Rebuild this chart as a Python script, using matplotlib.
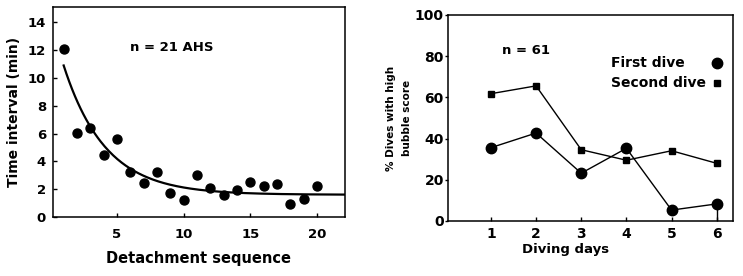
import numpy as np
import matplotlib.pyplot as plt

plt.rcParams['font.family'] = ['DejaVu Sans']
plt.rcParams['font.weight'] = 'bold'

# left panel: time interval between detachments
seq = np.arange(1, 21)
interval = [12.05, 6.05, 6.4, 4.45, 5.6, 3.25, 2.45, 3.2, 1.75, 1.2,
            3.0, 2.05, 1.6, 1.95, 2.5, 2.25, 2.35, 0.95, 1.3, 2.2]
# exponential fit y = c + a*exp(-k*x)
fit_c, fit_a, fit_k = 1.6, 12.8, 0.32

# right panel: dives with high bubble score
days = [1, 2, 3, 4, 5, 6]
first_dive = [35.6, 42.7, 23.2, 35.3, 5.3, 8.3]
second_dive = [61.8, 65.6, 34.6, 29.5, 34.1, 28.0]

fig = plt.figure(figsize=(7.43, 2.76), dpi=100)
W, H = 743, 276

def box(l, t, r, b):
    return [l / W, 1 - b / H, (r - l) / W, (b - t) / H]

# ---- left
ax1 = fig.add_axes(box(53, 7, 345, 217))
ax1.scatter(seq, interval, s=42, color='black', zorder=3)
xf = np.linspace(1, 22.1, 200)
ax1.plot(xf, fit_c + fit_a * np.exp(-fit_k * xf), color='black', lw=1.6)
ax1.set_xlim(0.2, 22.1)
ax1.set_ylim(0, 15.1)
ax1.set_xticks([5, 10, 15, 20])
ax1.set_yticks(range(0, 15, 2))
ax1.tick_params(direction='in', length=3, width=1, labelsize=9.5)
ax1.tick_params(axis='x', pad=8)
ax1.tick_params(axis='y', pad=5)
for lab in ax1.get_xticklabels() + ax1.get_yticklabels():
    lab.set_fontweight('bold')
ax1.set_xlabel('Detachment sequence', fontsize=10.5, fontweight='bold', labelpad=7)
ax1.set_ylabel('Time interval (min)', fontsize=10, fontweight='bold', labelpad=5)
ax1.text(0.264, 0.805, 'n = 21 AHS', transform=ax1.transAxes, fontsize=9.5,
         fontweight='bold', va='center')
for sp in ax1.spines.values():
    sp.set_linewidth(1.1)

# ---- right
ax2 = fig.add_axes(box(448, 15, 733, 221))
ax2.plot(days, first_dive, color='black', lw=1, marker='o', ms=7.5)
ax2.plot(days, second_dive, color='black', lw=1, marker='s', ms=5)
ax2.vlines(days[-1], 0, first_dive[-1], color='black', lw=1)
ax2.set_xlim(0.05, 6.36)
ax2.set_ylim(0, 100)
ax2.set_xticks(days)
ax2.set_yticks(range(0, 101, 20))
ax2.tick_params(axis='x', direction='in', length=3, width=1, labelsize=10, pad=4)
ax2.tick_params(axis='y', direction='out', length=2, width=1, labelsize=10, pad=1)
for lab in ax2.get_xticklabels() + ax2.get_yticklabels():
    lab.set_fontweight('bold')
fig.text(566 / W, 1 - 249 / H, 'Diving days', fontsize=9.5, fontweight='bold',
         ha='center', va='center')
ax2.set_ylabel('% Dives with high\nbubble score', fontsize=7.5, fontweight='bold',
               labelpad=2, linespacing=1.8)
ax2.text(0.19, 0.81, 'n = 61', transform=ax2.transAxes, fontsize=9.5, fontweight='bold')

# legend drawn by hand: text left, marker right
leg = [('First dive', 'o', 7.5, 0.767), ('Second dive', 's', 5, 0.670)]
for name, mk, size, yy in leg:
    ax2.text(0.572, yy, name, transform=ax2.transAxes, fontsize=10,
             fontweight='bold', va='center')
    ax2.plot([0.944], [yy], transform=ax2.transAxes, marker=mk, ms=size,
             color='black', linestyle='none')
for sp in ax2.spines.values():
    sp.set_linewidth(1.1)

fig.savefig('out.png', dpi=100)
